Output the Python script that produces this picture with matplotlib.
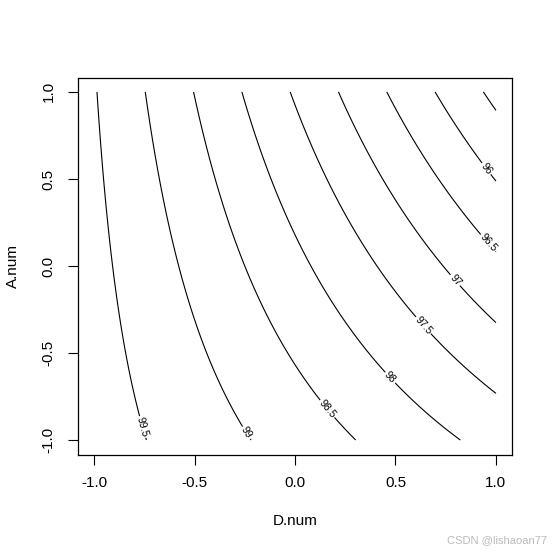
import numpy as np
import matplotlib
matplotlib.use("Agg")
import matplotlib.pyplot as plt

# Fitted response surface (read off the contour spacing):
# z = b0 + bD*D + bA*A + bDA*D*A
b0 = 98.12
bD = -1.52
bA = -0.67
bDA = -0.56

levels = [95.5, 96.0, 96.5, 97.0, 97.5, 98.0, 98.5, 99.0, 99.5]
level_labels = ["95.5", "96", "96.5", "97", "97.5", "98", "98.5", "99", "99.5"]
x_ticks = [-1.0, -0.5, 0.0, 0.5, 1.0]
y_ticks = [-1.0, -0.5, 0.0, 0.5, 1.0]
tick_labels = ["-1.0", "-0.5", "0.0", "0.5", "1.0"]

plt.rcParams['font.family'] = ['Liberation Sans', 'DejaVu Sans']

D = np.linspace(-1, 1, 201)
A = np.linspace(-1, 1, 201)
DD, AA = np.meshgrid(D, A)
Z = b0 + bD * DD + bA * AA + bDA * DD * AA

fig = plt.figure(figsize=(5.53, 5.52), dpi=100)
ax = fig.add_axes([78 / 553, 1 - 455 / 552, (512 - 78) / 553, (455 - 78) / 552])

# unlabeled short contour in the corner
ax.contour(DD, AA, Z, levels=levels[:1], colors='black', linewidths=0.8)
cs = ax.contour(DD, AA, Z, levels=levels[1:], colors='black', linewidths=0.8)

# label anchor points (layout), in order of levels[1:]
label_pos = [(0.947, 0.554), (0.955, 0.126), (0.791, -0.088), (0.628, -0.352),
             (0.463, -0.653), (0.156, -0.825), (-0.23, -0.95), (-0.753, -0.923)]
fmt = {lv: lb for lv, lb in zip(levels, level_labels)}
ax.clabel(cs, fmt=fmt, fontsize=7.5, inline=True,
          inline_spacing=2, manual=label_pos, colors='black')

ax.set_xlim(-1.08, 1.08)
ax.set_ylim(-1.086, 1.08)
ax.set_xticks(x_ticks)
ax.set_xticklabels(tick_labels)
ax.set_yticks(y_ticks)
ax.set_yticklabels(tick_labels, rotation=90, va='center')
ax.tick_params(axis='both', direction='out', length=7, width=0.8, labelsize=11,
               colors='black')
ax.tick_params(axis='x', pad=8)
ax.tick_params(axis='y', pad=9)
for s in ax.spines.values():
    s.set_linewidth(0.9)

ax.set_xlabel("D.num", fontsize=11)
ax.set_ylabel("A.num", fontsize=11)
ax.xaxis.set_label_coords(0.5, -(521 - 455) / 377, transform=ax.transAxes)
ax.xaxis.label.set_va('center')
ax.yaxis.set_label_coords(-(78 - 13) / 434, 0.5, transform=ax.transAxes)
ax.yaxis.label.set_va('center')

fig.text(547 / 553, 1 - 540 / 552, "CSDN @lishaoan77", fontsize=8, color='#bbbbbb',
         ha='right', va='center')

fig.savefig("out.png", dpi=100)
